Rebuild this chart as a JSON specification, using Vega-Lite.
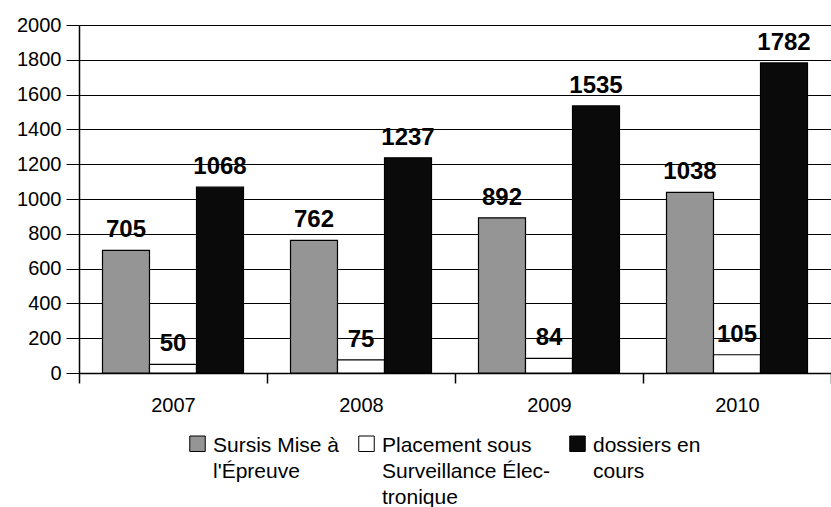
{
  "$schema": "https://vega.github.io/schema/vega-lite/v6.json",
  "width": 752,
  "height": 348,
  "autosize": {"type": "none"},
  "padding": {"left": 79, "top": 25, "right": 0, "bottom": 134},
  "background": "white",
  "config": {
    "font": "Liberation Sans",
    "view": {"stroke": null},
    "style": {"guide-label": {"lineHeight": 26, "dy": 8}}
  },
  "data": {
    "values": [
      {"year": "2007", "serie": "Sursis Mise à l'Épreuve", "value": 705},
      {"year": "2007", "serie": "Placement sous Surveillance Électronique", "value": 50},
      {"year": "2007", "serie": "dossiers en cours", "value": 1068},
      {"year": "2008", "serie": "Sursis Mise à l'Épreuve", "value": 762},
      {"year": "2008", "serie": "Placement sous Surveillance Électronique", "value": 75},
      {"year": "2008", "serie": "dossiers en cours", "value": 1237},
      {"year": "2009", "serie": "Sursis Mise à l'Épreuve", "value": 892},
      {"year": "2009", "serie": "Placement sous Surveillance Électronique", "value": 84},
      {"year": "2009", "serie": "dossiers en cours", "value": 1535},
      {"year": "2010", "serie": "Sursis Mise à l'Épreuve", "value": 1038},
      {"year": "2010", "serie": "Placement sous Surveillance Électronique", "value": 105},
      {"year": "2010", "serie": "dossiers en cours", "value": 1782}
    ]
  },
  "encoding": {
    "x": {
      "field": "year",
      "type": "nominal",
      "scale": {"paddingInner": 0, "paddingOuter": 0},
      "axis": {
        "title": null,
        "labelAngle": 0,
        "labelFontSize": 20,
        "labelColor": "black",
        "labelPadding": 4,
        "tickBand": "extent",
        "tickSize": 10,
        "tickColor": "black",
        "tickWidth": 1.5,
        "domainColor": "black",
        "domainWidth": 1.5,
        "grid": false
      }
    },
    "xOffset": {
      "field": "serie",
      "type": "nominal",
      "sort": ["Sursis Mise à l'Épreuve", "Placement sous Surveillance Électronique", "dossiers en cours"],
      "scale": {"paddingInner": 0, "paddingOuter": 0.5}
    },
    "y": {
      "field": "value",
      "type": "quantitative",
      "scale": {"domain": [0, 2000], "nice": false},
      "axis": {
        "title": null,
        "format": "d",
        "values": [0, 200, 400, 600, 800, 1000, 1200, 1400, 1600, 1800, 2000],
        "labelFontSize": 20,
        "labelColor": "black",
        "labelPadding": 5,
        "labelOffset": -8,
        "tickSize": 13,
        "tickColor": "black",
        "grid": true,
        "gridColor": "black",
        "gridOpacity": 1,
        "gridWidth": 1,
        "domainColor": "black",
        "domainWidth": 1.5
      }
    }
  },
  "layer": [
    {
      "mark": {"type": "bar", "stroke": "black", "strokeWidth": 1.2},
      "encoding": {
        "fill": {
          "field": "serie",
          "type": "nominal",
          "sort": ["Sursis Mise à l'Épreuve", "Placement sous Surveillance Électronique", "dossiers en cours"],
          "scale": {
            "domain": ["Sursis Mise à l'Épreuve", "Placement sous Surveillance Électronique", "dossiers en cours"],
            "range": ["#959595", "#ffffff", "#0a0a0a"]
          },
          "legend": {
            "title": null,
            "orient": "none",
            "legendX": 108,
            "legendY": 408,
            "direction": "horizontal",
            "columns": 3,
            "columnPadding": 16,
            "labelFontSize": 21,
            "labelColor": "black",
            "labelOffset": 5,
            "labelLimit": 300,
            "labelBaseline": "alphabetic",
            "symbolType": "square",
            "symbolSize": 240,
            "symbolStrokeColor": "black",
            "symbolStrokeWidth": 1,
            "labelExpr": "datum.label == \"Sursis Mise à l'Épreuve\" ? [\"Sursis Mise à\", \"l'Épreuve\", \"\"] : datum.label == \"Placement sous Surveillance Électronique\" ? [\"Placement sous\", \"Surveillance Élec-\", \"tronique\"] : [\"dossiers en\", \"cours\", \"\"]"
          }
        }
      }
    },
    {
      "mark": {"type": "text", "fontSize": 24, "fontWeight": "bold", "baseline": "bottom", "dy": -8, "color": "black"},
      "encoding": {
        "text": {"field": "value", "type": "quantitative"}
      }
    }
  ]
}
